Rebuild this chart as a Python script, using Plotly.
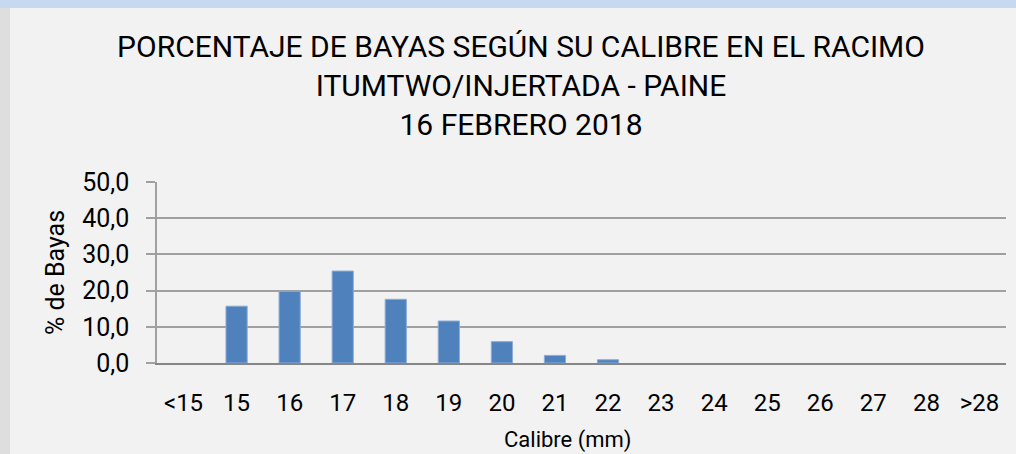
import plotly.graph_objects as go

categories = ["<15", "15", "16", "17", "18", "19", "20", "21", "22", "23", "24", "25", "26", "27", "28", ">28"]
values = [0.0, 15.7, 19.8, 25.4, 17.6, 11.6, 5.9, 2.1, 0.9, 0.0, 0.0, 0.0, 0.0, 0.0, 0.0, 0.0]
y_ticks = [0, 10, 20, 30, 40, 50]

W, H = 1016, 454
L, R, T, B = 157, 10, 182, 91
pw = W - L - R
ph = H - T - B

def px_x(p):
    return (p - L) / pw

def px_y(p):
    return (H - B - p) / ph

fig = go.Figure()
fig.add_trace(go.Bar(
    x=categories, y=values,
    marker=dict(color="#4f81bd",
                line=dict(color="#8eacd6", width=[1 if v > 0 else 0 for v in values])),
    hoverinfo="x+y",
))

fig.update_layout(
    width=W, height=H,
    margin=dict(l=L, r=R, t=T, b=B, autoexpand=False),
    paper_bgcolor="#f2f2f2",
    plot_bgcolor="#f2f2f2",
    separators=",.",
    bargap=0.6,
    showlegend=False,
    title=dict(
        text="PORCENTAJE DE BAYAS SEGÚN SU CALIBRE EN EL RACIMO<br>ITUMTWO/INJERTADA - PAINE<br>16 FEBRERO 2018",
        x=521 / W, xanchor="center", xref="container",
        y=1 - 57 / H, yanchor="top", yref="container",
        font=dict(family="Roboto", size=30, color="#000000"),
    ),
    xaxis=dict(
        type="category",
        automargin=False,
        showgrid=False,
        showline=True, linecolor="#868686", linewidth=2,
        ticks="outside", ticklen=17, tickcolor="rgba(0,0,0,0)",
        tickfont=dict(family="Roboto", size=24, color="#000000"),
        range=[-0.5, 15.5],
        zeroline=False,
    ),
    yaxis=dict(
        automargin=False,
        range=[0, 50],
        tickvals=y_ticks,
        tickformat=".1f",
        showgrid=True, gridcolor="#a0a0a0", gridwidth=1.5,
        showline=True, linecolor="#a0a0a0", linewidth=1.5,
        ticks="outside", ticklen=9, tickcolor="#a0a0a0", tickwidth=1.5,
        ticklabelstandoff=12,
        tickfont=dict(family="Roboto", size=25, color="#000000"),
        title=dict(text="% de Bayas", font=dict(family="Roboto", size=25, color="#000000"), standoff=10),
        zeroline=False,
    ),
    shapes=[
        dict(type="rect", xref="paper", yref="paper", x0=px_x(0), x1=px_x(W), y0=px_y(8), y1=px_y(0),
             fillcolor="#c6d9f1", line=dict(width=0), layer="below"),
        dict(type="rect", xref="paper", yref="paper", x0=px_x(0), x1=px_x(10), y0=px_y(H), y1=px_y(8),
             fillcolor="#dedede", line=dict(width=0), layer="below"),
    ],
    annotations=[
        dict(text="Calibre (mm)", xref="paper", yref="paper", x=px_x(568), y=px_y(440),
             xanchor="center", yanchor="middle", showarrow=False,
             font=dict(family="Roboto", size=22, color="#000000")),
    ],
)

fig.write_html("out.html", config={"displayModeBar": False},
               post_script="document.body.style.margin='0';document.body.style.overflow='hidden';")
